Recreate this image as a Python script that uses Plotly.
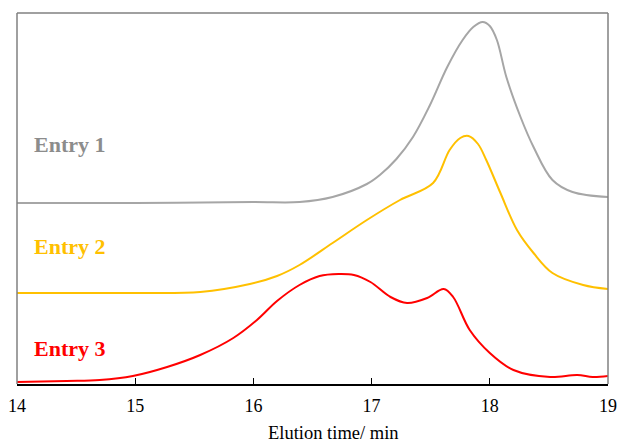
import plotly.graph_objects as go

# Elution time (min) and detector response (arbitrary units, offset traces)
x1 = [14.0, 15.0, 16.0, 16.39, 16.67, 16.96, 17.07, 17.21, 17.35, 17.49, 17.64, 17.77, 17.86, 17.94, 18.0, 18.06, 18.14, 18.26, 18.37, 18.53, 18.70, 19.0]
y1 = [181, 181, 182, 182, 187, 200, 209, 225, 247, 278, 317, 344, 357, 362, 358, 344, 307, 267, 237, 204, 192, 187]

x2 = [14.0, 14.7, 15.0, 15.55, 15.97, 16.2, 16.39, 16.67, 16.96, 17.24, 17.52, 17.66, 17.75, 17.82, 17.90, 17.97, 18.09, 18.23, 18.37, 18.53, 18.79, 19.0]
y2 = [91, 91, 91, 92, 100, 108, 119, 141, 164, 184, 201, 234, 246, 248, 240, 224, 191, 154, 131, 111, 99, 95]

x3 = [14.0, 14.42, 14.70, 14.98, 15.27, 15.55, 15.83, 16.03, 16.20, 16.39, 16.56, 16.72, 16.85, 16.99, 17.16, 17.30, 17.47, 17.61, 17.69, 17.83, 18.0, 18.20, 18.51, 18.74, 18.87, 19.0]
y3 = [2, 3, 4, 8, 17, 29, 46, 64, 83, 99, 108, 110, 109, 102, 87, 81, 86, 95, 87, 54, 31, 14, 7, 9, 7, 8]

labels = ["Entry 1", "Entry 2", "Entry 3"]
label_y = [240, 138, 36]
colors = ["#A6A6A6", "#FFC000", "#FF0000"]
label_colors = ["#8C8C8C", "#FFC000", "#FF0000"]
x_title = "Elution time/ min"

fig = go.Figure()
for xs, ys, c in zip([x1, x2, x3], [y1, y2, y3], colors):
    fig.add_trace(go.Scatter(x=xs, y=ys, mode="lines",
                             line=dict(color=c, width=2, shape="spline", smoothing=1.0),
                             hoverinfo="skip", showlegend=False))

for t, ly, lc in zip(labels, label_y, label_colors):
    fig.add_annotation(x=14.13, y=ly, text="<b>" + t + "</b>", showarrow=False,
                       xanchor="left", yanchor="middle",
                       font=dict(family="Liberation Serif", size=22, color=lc))

# axis title (offset to the right as in the original)
fig.add_annotation(xref="paper", yref="paper", x=0.536, y=-0.132, text=x_title,
                   showarrow=False, xanchor="center", yanchor="middle",
                   font=dict(family="Liberation Serif", size=18.5, color="black"))

# gray frame (top, left, right)
for x0, x1_, y0, y1_ in [(0, 1, 1, 1), (0, 0, 0, 1), (1, 1, 0, 1)]:
    fig.add_shape(type="line", xref="paper", yref="paper", x0=x0, x1=x1_, y0=y0, y1=y1_,
                  line=dict(color="#808080", width=1.5))

fig.update_layout(
    width=617, height=442,
    margin=dict(l=17, r=9, t=13, b=58),
    paper_bgcolor="white", plot_bgcolor="white",
    font=dict(family="Liberation Serif", size=18, color="black"),
    xaxis=dict(range=[14, 19], dtick=1, showgrid=False, zeroline=False,
               automargin=False,
               showline=True, linecolor="black", linewidth=1.5,
               ticks="inside", ticklen=6, tickcolor="black",
               ticklabelstandoff=5,
               tickfont=dict(family="Liberation Serif", size=18, color="black")),
    yaxis=dict(range=[0, 371], showgrid=False, zeroline=False, showticklabels=False,
               automargin=False, showline=False, ticks=""),
)

fig.write_html("out.html", config={"displayModeBar": False},
               post_script="document.body.style.margin='0';document.body.style.overflow='hidden';")
